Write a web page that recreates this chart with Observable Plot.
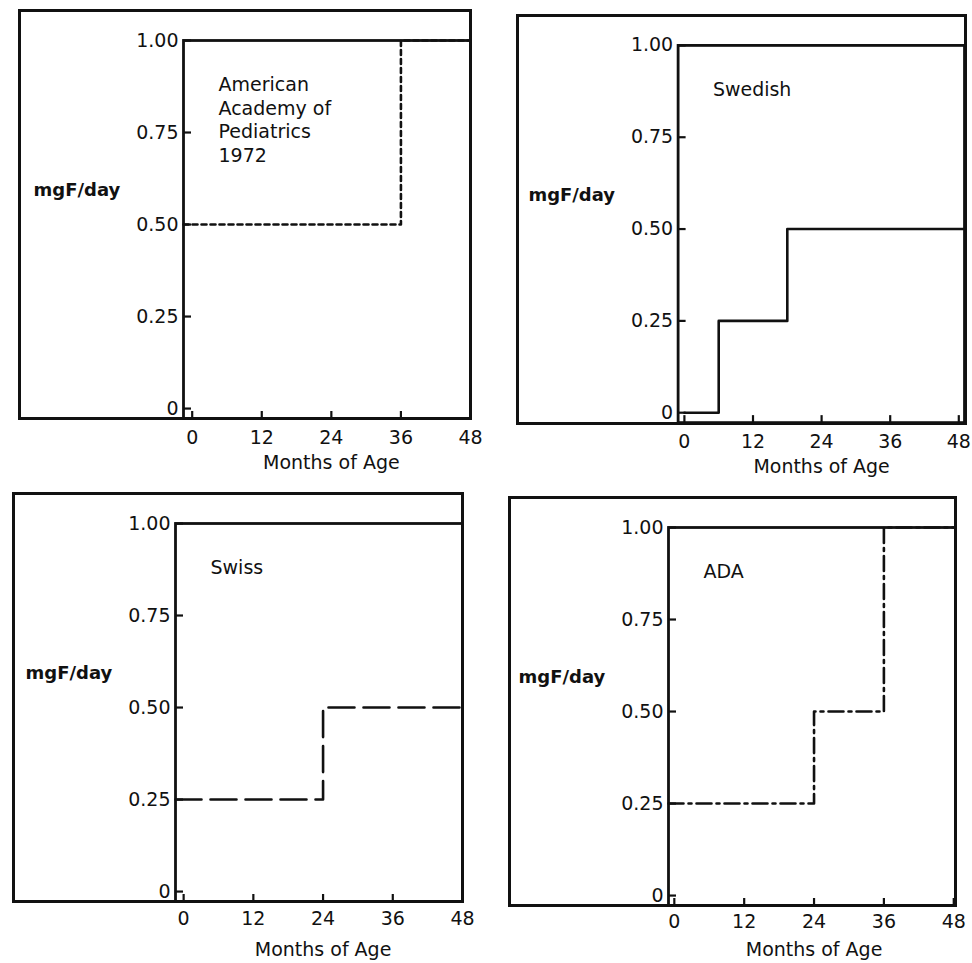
<!DOCTYPE html>
<html><head><meta charset="utf-8">
<script src="https://cdn.jsdelivr.net/npm/d3@7"></script>
<script src="https://cdn.jsdelivr.net/npm/@observablehq/plot@0.6"></script>
<style>
html,body{margin:0;padding:0;background:#fff;overflow:hidden}
#fig{position:relative;width:972px;height:963px;background:#fff;overflow:hidden}
.box{position:absolute;border:3.5px solid #111;box-sizing:border-box;z-index:0}
.panel{position:absolute;z-index:1}
.panel svg{overflow:visible;background:transparent;display:block}
</style></head><body><div id="fig"></div>
<script>
// ---- data ----
const panelTitles = ["American\nAcademy of\nPediatrics\n1972", "Swedish", "Swiss", "ADA"];
const agesAAP = [0, 36, 48];
const doseAAP = [0.5, 1.0, 1.0];
const agesSwedish = [0, 6, 18, 48];
const doseSwedish = [0, 0.25, 0.5, 0.5];
const agesSwiss = [0, 24, 48];
const doseSwiss = [0.25, 0.5, 0.5];
const agesADA = [0, 24, 36, 48];
const doseADA = [0.25, 0.5, 1.0, 1.0];
const xTicks = [0, 12, 24, 36, 48];
const xTickLabels = ["0", "12", "24", "36", "48"];
const yTicks = [0, 0.25, 0.5, 0.75, 1.0];
const yTickLabels = ["0", "0.25", "0.50", "0.75", "1.00"];
const yAxisLabel = "mgF/day";
const xAxisLabel = "Months of Age";

// ---- layout ----
const yDomain = [-0.027, 1];
const panels = [
  {title: panelTitles[0], ages: agesAAP, doses: doseAAP, dash: "5,4", ox: 0, oy: 0, boxL: 20, xd: [-1.5, 48], tp: 19, ld: 44},
  {title: panelTitles[1], ages: agesSwedish, doses: doseSwedish, dash: null, ox: 495, oy: 5, boxL: 23, xd: [-1.1, 49], tp: 19, ld: 44},
  {title: panelTitles[2], ages: agesSwiss, doses: doseSwiss, dash: "26,9", ox: -8, oy: 483, boxL: 22, xd: [-1.4, 48], tp: 17, ld: 48},
  {title: panelTitles[3], ages: agesADA, doses: doseADA, dash: "15,5,3,5", ox: 485, oy: 487, boxL: 25, xd: [-1.0, 48.3], tp: 16, ld: 44}
];
const W = 478, H = 480, mL = 183, mT = 40, mR = 8, mB = 62;
const ink = "#111";
const yFmt = new Map(yTicks.map((t, i) => [t, yTickLabels[i]]));
const xFmt = new Map(xTicks.map((t, i) => [t, xTickLabels[i]]));
const xMid = (xTicks[0] + xTicks[xTicks.length - 1]) / 2;

const fig = document.getElementById("fig");

for (const p of panels) {
  const data = p.ages.map((a, i) => ({age: a, dose: p.doses[i]}));
  const n = data.length;
  const startsAtAxis = p.doses[0] > 0;
  const chart = Plot.plot({
    width: W, height: H,
    marginLeft: mL, marginTop: mT, marginRight: mR, marginBottom: mB,
    x: {domain: p.xd},
    y: {domain: yDomain},
    style: {fontFamily: "'DejaVu Sans', sans-serif", fontSize: "19px", color: ink, background: "transparent", overflow: "visible"},
    marks: [
      Plot.line(data, {
        x: (d, i) => (i === 0 && startsAtAxis ? p.xd[0] : i === n - 1 ? p.xd[1] : d.age),
        y: "dose",
        curve: "step-after",
        stroke: ink, strokeWidth: 2.6,
        strokeDasharray: p.dash || undefined
      }),
      Plot.frame({stroke: ink, strokeWidth: 2.8}),
      Plot.axisY({ticks: yTicks, tickFormat: d => yFmt.get(d), tickSize: -8, tickPadding: 13, strokeWidth: 2.2, fontSize: 19, label: null}),
      Plot.axisX({ticks: xTicks, tickFormat: d => xFmt.get(d), tickSize: -7, tickPadding: p.tp, strokeWidth: 2.2, fontSize: 19, label: null}),
      Plot.text([p.title], {text: d => d, frameAnchor: "top-left", dx: 35, dy: 34, textAnchor: "start", lineAnchor: "top", fontSize: 19, lineHeight: 1.24, fill: ink}),
      Plot.text([yAxisLabel], {text: d => d, frameAnchor: "top-left", dx: -150, dy: 143, textAnchor: "start", lineAnchor: "top", fontSize: 18, fontWeight: "bold", fill: ink}),
      Plot.text([{label: xAxisLabel, age: xMid}], {text: "label", x: "age", frameAnchor: "bottom", dy: p.ld, lineAnchor: "middle", fontSize: 19, fill: ink})
    ]
  });
  const box = document.createElement("div");
  box.className = "box";
  const bw = 3.5 / 2;
  box.style.left = (p.ox + p.boxL - bw) + "px";
  box.style.top = (p.oy + 11 - bw) + "px";
  box.style.width = (W - mR - p.boxL + 2 * bw) + "px";
  box.style.height = (H - mB - 11 + 2 * bw) + "px";
  fig.appendChild(box);
  const wrap = document.createElement("div");
  wrap.className = "panel";
  wrap.style.left = p.ox + "px";
  wrap.style.top = p.oy + "px";
  wrap.appendChild(chart);
  fig.appendChild(wrap);
}
</script></body></html>
